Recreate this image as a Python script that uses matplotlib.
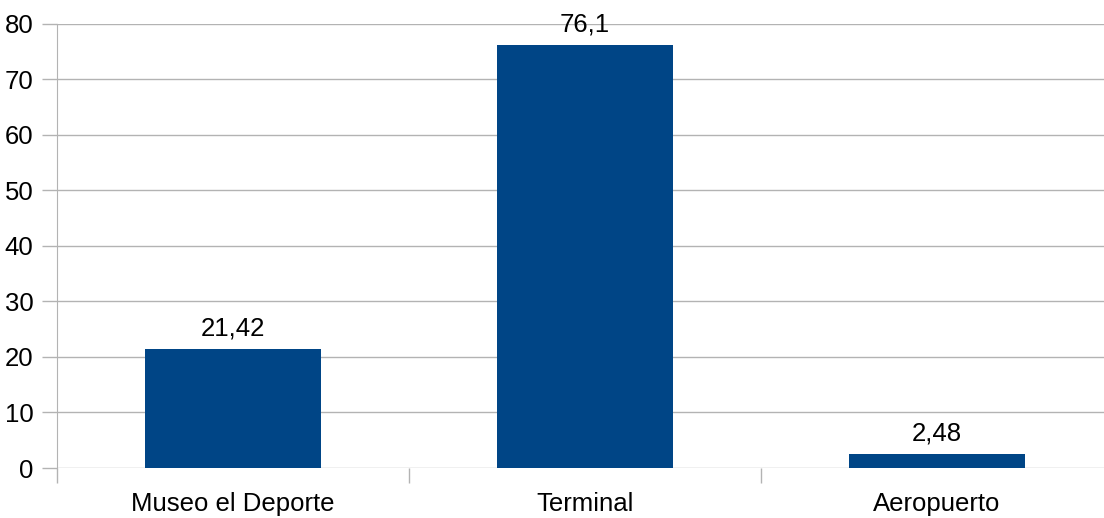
import numpy as np
import matplotlib.pyplot as plt
from matplotlib.ticker import FixedLocator, NullFormatter

# datos del gráfico
categorias = ['Museo el Deporte', 'Terminal', 'Aeropuerto']
valores = [21.42, 76.1, 2.48]
etiquetas = ['21,42', '76,1', '2,48']

plt.rcParams['font.family'] = ['Liberation Sans', 'DejaVu Sans']
TAM = 18.5

fig = plt.figure(figsize=(11.04, 5.18), dpi=100)
ax = fig.add_axes([57 / 1104, 50 / 518, 1 - 57 / 1104, 444.5 / 518])

x = np.arange(len(categorias))
ax.bar(x, valores, width=0.5, color='#004586', zorder=3)

# etiquetas de valor sobre las barras
for xi, v, t in zip(x, valores, etiquetas):
    ax.annotate(t, (xi, v), xytext=(0, 6), textcoords='offset points',
                ha='center', va='bottom', fontsize=TAM, color='black')

ax.set_ylim(0, 80)
ax.set_yticks(np.arange(0, 81, 10))
ax.set_xlim(-0.5, -0.5 + (1104 - 57) / 352)

# categorías centradas, marcas en los límites
ax.xaxis.set_major_locator(FixedLocator(x - 0.5))
ax.xaxis.set_major_formatter(NullFormatter())
ax.xaxis.set_minor_locator(FixedLocator(x))
ax.set_xticklabels(categorias, minor=True)
ax.tick_params(axis='x', which='minor', length=0, pad=17, labelsize=TAM)
ax.tick_params(axis='x', which='major', length=11, width=1, color='#b3b3b3')
ax.tick_params(axis='y', length=11, width=1, color='#b3b3b3', pad=6, labelsize=TAM)

ax.grid(axis='y', color='#b3b3b3', linewidth=1, zorder=0)
for s in ['top', 'right', 'bottom']:
    ax.spines[s].set_visible(False)
ax.spines['left'].set_color('#b3b3b3')
ax.spines['left'].set_bounds(0, 80)

fig.savefig('out.png', dpi=100)
